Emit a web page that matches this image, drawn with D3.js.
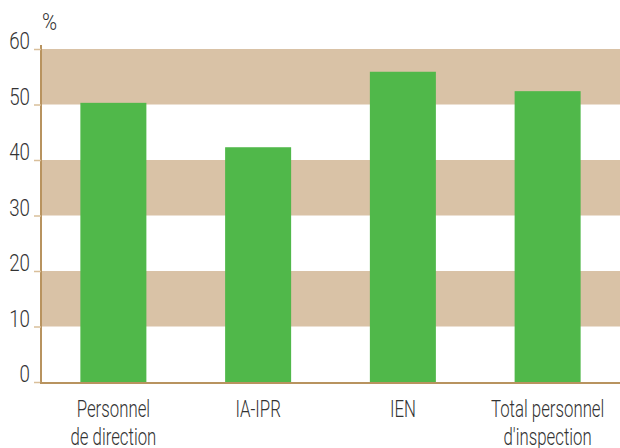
<!DOCTYPE html>
<html><head><meta charset="utf-8">
<script src="https://cdn.jsdelivr.net/npm/d3@7"></script>
<style>
body{margin:0;background:#fff;}
text{font-family:Roboto,"Liberation Sans",sans-serif;font-weight:300;fill:#333;}
</style></head>
<body><svg id="c" width="620" height="448"></svg>
<script>
const categories = [["Personnel","de direction"],["IA-IPR"],["IEN"],["Total personnel","d'inspection"]];
const values = [50.3, 42.3, 55.9, 52.4];
const yTicks = [0,10,20,30,40,50,60];
const bands = [[10,20],[30,40],[50,60]];

const SX = 0.7, FS = 24;
const svg = d3.select("#c");
const x0 = 41, x1 = 620, yTop = 49, yBot = 382;
const x = d3.scaleBand().domain(d3.range(categories.length)).range([x0, x1]).paddingInner(0.544).paddingOuter(0.272);
const y = d3.scaleLinear().domain([0,60]).range([yBot, yTop]);

svg.selectAll("rect.band").data(bands).enter().append("rect")
  .attr("x", x0).attr("width", x1 - x0)
  .attr("y", d => y(d[1])).attr("height", d => y(d[0]) - y(d[1]))
  .attr("fill", "#d9c2a6");

svg.selectAll("rect.bar").data(values).enter().append("rect")
  .attr("x", (d,i) => x(i)).attr("width", x.bandwidth())
  .attr("y", d => y(d)).attr("height", d => y(0) - y(d))
  .attr("fill", "#50b84a");

const ya = svg.append("g").attr("transform", `translate(${x0},0)`)
  .call(d3.axisLeft(y).tickValues(yTicks).tickSize(7).tickPadding(4).tickFormat(d3.format("d")));
ya.select(".domain").attr("stroke", "#b8935f").attr("stroke-width", 2).attr("d", `M0,${yTop-4}V${yBot+1}`);
ya.selectAll(".tick line").attr("stroke", "#d9bf9a").attr("stroke-width", 1.5);
ya.selectAll(".tick text").attr("font-size", FS).attr("fill", "#333").attr("x", 0).attr("dy", "-0.02em")
  .attr("transform", `translate(-11,0) scale(0.78,1)`)
  .style("font-family", 'Roboto,sans-serif').style("font-weight", 300);

svg.append("line").attr("x1", x0 - 1).attr("x2", x1).attr("y1", yBot + 1).attr("y2", yBot + 1)
  .attr("stroke", "#b8935f").attr("stroke-width", 2);

svg.append("text").attr("transform", `translate(42,30) scale(0.85,1)`).attr("font-size", FS).text("%");

const xa = svg.append("g");
categories.forEach((lines, i) => {
  const cx = x(i) + x.bandwidth()/2;
  lines.forEach((l, j) => xa.append("text").attr("text-anchor", "middle").attr("font-size", FS)
    .attr("transform", `translate(${cx},${417 + j*28}) scale(${SX},1)`).text(l));
});
</script></body></html>
